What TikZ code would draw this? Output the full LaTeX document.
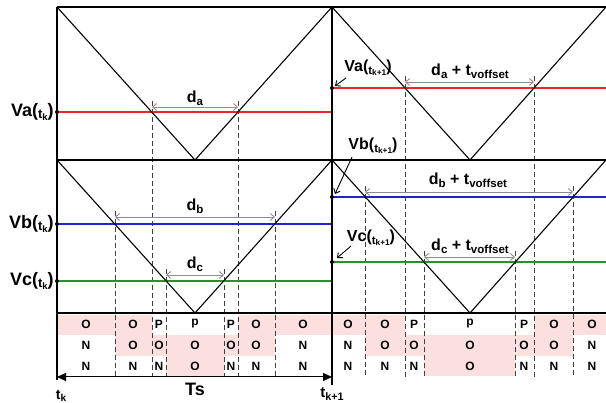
\documentclass[tikz,border=0pt]{standalone}
\usepackage{graphicx}
\usepackage{fontspec}
\setmainfont{Liberation Sans}
\usetikzlibrary{arrows.meta}
\definecolor{refRed}{RGB}{232,40,40}
\definecolor{refBlue}{RGB}{35,35,205}
\definecolor{refGreen}{RGB}{40,145,40}
\definecolor{refPink}{RGB}{252,224,224}
\newcommand{\lowsub}[1]{\raisebox{-0.3ex}{\scalebox{0.72}{#1}}}
\tikzstyle{carrier}=[black, line width=1.1pt]
\tikzstyle{axisline}=[black, line width=1.5pt]
\tikzstyle{guide}=[black!75, line width=0.8pt, dash pattern=on 5pt off 3pt]
\tikzstyle{dimline}=[black!45, line width=0.9pt, {Straight Barb[length=4pt,width=7pt]}-{Straight Barb[length=4pt,width=7pt]}]
\tikzstyle{pointer}=[black, line width=0.9pt, -{Straight Barb[length=4pt,width=7pt]}]
\tikzstyle{dot}=[circle, fill=black, inner sep=0pt, minimum size=4pt]
\tikzstyle{cell}=[font=\fontsize{12}{12}\selectfont\bfseries, inner sep=0pt]
\tikzstyle{vlabel}=[font=\fontsize{18}{18}\selectfont\bfseries, inner sep=1pt]
\tikzstyle{klabel}=[font=\fontsize{16}{16}\selectfont\bfseries, inner sep=0pt]
\tikzstyle{dlabel}=[font=\fontsize{16}{16}\selectfont\bfseries, inner sep=0pt]
\tikzstyle{shade}=[fill=refPink]

\begin{document}
\begin{tikzpicture}[x=1pt, y=-1pt]
	\useasboundingbox (0,0) rectangle (606,403);

	% O states shaded in the table
	\fill[shade] (57,315) rectangle (152,335);
	\fill[shade] (238,315) rectangle (405,335);
	\fill[shade] (534,315) rectangle (606,335);
	\fill[shade] (115,335) rectangle (275,356);
	\fill[shade] (365,335) rectangle (573,356);
	\fill[shade] (166,356) rectangle (224,376);
	\fill[shade] (424,356) rectangle (515,376);

	% switching instants
	\foreach \x/\y in {152/101, 238/101, 115/211, 275/211, 166/269, 224/269,
		405/76, 534/76, 365/186, 573/186, 424/251, 515/251}{
		\draw[guide] (\x,\y) -- (\x,377);
	}

	% references
	\draw[refRed, line width=1.3pt] (57,112) -- (332,112);
	\draw[refRed, line width=1.3pt] (332,88) -- (606,88);
	\draw[refBlue, line width=1.1pt] (57,224) -- (332,224);
	\draw[refBlue, line width=1.1pt] (332,197) -- (606,197);
	\draw[refGreen, line width=1.1pt] (57,281) -- (332,281);
	\draw[refGreen, line width=1.1pt] (332,262) -- (606,262);

	% carriers
	\draw[carrier] (57,7) -- (195,160) -- (332,7) -- (470,160) -- (606,7);
	\draw[carrier] (57,160) -- (195,313) -- (332,160) -- (470,313) -- (606,160);

	% frame
	\draw[axisline] (57,7) -- (606,7);
	\draw[axisline] (57,160) -- (606,160);
	\draw[axisline] (57,313) -- (606,313);
	\draw[axisline] (57,7) -- (57,380);
	\draw[axisline] (332,7) -- (332,385);

	\node[dot] (vaK) at (57,112) {};
	\node[dot] (vbK) at (57,224) {};
	\node[dot] (vcK) at (57,281) {};
	\node[dot] (vaK1) at (332,88) {};
	\node[dot] (vbK1) at (332,197) {};
	\node[dot] (vcK1) at (332,262) {};

	\node[vlabel, anchor=east] at (vaK.west) {Va(\lowsub{t\lowsub{k}})};
	\node[vlabel, anchor=east] at (vbK.west) {Vb(\lowsub{t\lowsub{k}})};
	\node[vlabel, anchor=east] at (vcK.west) {Vc(\lowsub{t\lowsub{k}})};

	\node[klabel] (laK1) at (368,68) {Va(\lowsub{t\lowsub{k+1}})};
	\node[klabel] (lbK1) at (373,146) {Vb(\lowsub{t\lowsub{k+1}})};
	\node[klabel] (lcK1) at (371,238) {Vc(\lowsub{t\lowsub{k+1}})};
	\coordinate (paK1) at (346,78);
	\coordinate (pbK1) at (352,157);
	\coordinate (pcK1) at (351,246);
	\draw[pointer] (paK1) -- ([shift={(3,-2)}]vaK1.center);
	\draw[pointer] (pbK1) -- ([shift={(3,-3)}]vbK1.center);
	\draw[pointer] (pcK1) -- ([shift={(5,-4)}]vcK1.center);

	% duty cycles
	\coordinate (daL) at (152,107); \coordinate (daR) at (238,107);
	\coordinate (dbL) at (115,217); \coordinate (dbR) at (275,217);
	\coordinate (dcL) at (166,275); \coordinate (dcR) at (224,275);
	\coordinate (eaL) at (405,82); \coordinate (eaR) at (534,82);
	\coordinate (ebL) at (365,192); \coordinate (ebR) at (573,192);
	\coordinate (ecL) at (424,257); \coordinate (ecR) at (515,257);
	\draw[dimline] (daL) -- (daR);
	\draw[dimline] (dbL) -- (dbR);
	\draw[dimline] (dcL) -- (dcR);
	\draw[dimline] (eaL) -- (eaR);
	\draw[dimline] (ebL) -- (ebR);
	\draw[dimline] (ecL) -- (ecR);
	\node[dlabel] (da) at (195,98) {d\lowsub{a}};
	\node[dlabel] (db) at (195,206) {d\lowsub{b}};
	\node[dlabel] (dc) at (195,264) {d\lowsub{c}};
	\node[dlabel] (dao) at (470,71) {d\lowsub{a} + t\lowsub{voffset}};
	\node[dlabel] (dbo) at (468,180) {d\lowsub{b} + t\lowsub{voffset}};
	\node[dlabel] (dco) at (470,246) {d\lowsub{c} + t\lowsub{voffset}};

	% switching states of the three phases
	\foreach \x/\a/\b/\c [count=\i] in {86/O/N/N, 133/O/O/N, 159/P/O/N, 195/p/O/O,
		231/P/O/N, 256/O/O/N, 303/O/N/N, 348/O/N/N, 385/O/O/N, 414/P/O/N,
		470/p/O/O, 524/P/O/N, 554/O/O/N, 592/O/N/N}{
		\node[cell] (sa\i) at (\x,324) {\a};
		\node[cell] (sb\i) at (\x,345) {\b};
		\node[cell] (sc\i) at (\x,366) {\c};
	}

	% sampling period
	\coordinate (tsL) at (57,377);
	\coordinate (tsR) at (332,377);
	\draw[black, line width=1pt, {Triangle[length=9pt,width=8pt]}-{Triangle[length=9pt,width=8pt]}] (tsL) -- (tsR);
	\node[font=\fontsize{18}{18}\selectfont\bfseries] (ts) at (195,389) {Ts};
	\node[font=\fontsize{14}{14}\selectfont\bfseries] (tk) at (61,396) {t\lowsub{k}};
	\node[font=\fontsize{15}{15}\selectfont\bfseries] (tk1) at (332,394) {t\lowsub{k+1}};
\end{tikzpicture}
\end{document}
